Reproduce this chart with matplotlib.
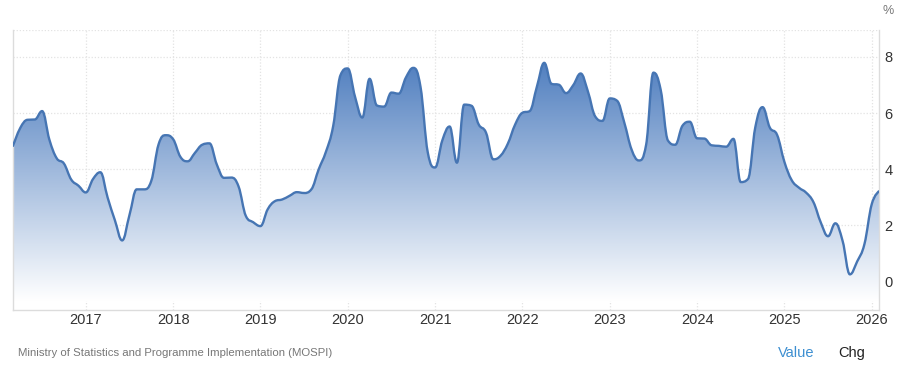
import numpy as np
import pandas as pd
import matplotlib
matplotlib.use("Agg")
import matplotlib.pyplot as plt
from matplotlib.path import Path
from matplotlib.patches import PathPatch
from matplotlib.colors import LinearSegmentedColormap

# ---- data (India CPI inflation, y/y %, monthly) ----
start_month = "2016-03"
inflation = [
    4.83, 5.47, 5.76, 5.77, 6.07, 5.05, 4.39, 4.20, 3.63, 3.41,            # 2016 Mar-Dec
    3.17, 3.65, 3.89, 2.99, 2.18, 1.46, 2.36, 3.28, 3.28, 3.58, 4.88, 5.21,  # 2017
    5.07, 4.44, 4.28, 4.58, 4.87, 4.92, 4.17, 3.69, 3.70, 3.38, 2.33, 2.11,  # 2018
    1.97, 2.57, 2.86, 2.92, 3.05, 3.18, 3.15, 3.28, 3.99, 4.62, 5.54, 7.35,  # 2019
    7.59, 6.58, 5.84, 7.22, 6.27, 6.23, 6.73, 6.69, 7.27, 7.61, 6.93, 4.59,  # 2020
    4.06, 5.03, 5.52, 4.23, 6.30, 6.26, 5.59, 5.30, 4.35, 4.48, 4.91, 5.59,  # 2021
    6.01, 6.07, 6.95, 7.79, 7.04, 7.01, 6.71, 7.00, 7.41, 6.77, 5.88, 5.72,  # 2022
    6.52, 6.44, 5.66, 4.70, 4.31, 4.87, 7.44, 6.83, 5.02, 4.87, 5.55, 5.69,  # 2023
    5.10, 5.09, 4.85, 4.83, 4.80, 5.08, 3.54, 3.65, 5.49, 6.21, 5.48, 5.22,  # 2024
    4.26, 3.61, 3.34, 3.16, 2.82, 2.10, 1.61, 2.07, 1.44, 0.25, 0.71, 1.33,  # 2025
    2.75, 3.21,                                                              # 2026 Jan-Feb
]
year_ticks = [2017, 2018, 2019, 2020, 2021, 2022, 2023, 2024, 2025, 2026]
y_ticks = [0, 2, 4, 6, 8]
source_text = "Ministry of Statistics and Programme Implementation (MOSPI)"

dates = pd.date_range(start_month, periods=len(inflation), freq="MS")
xs = np.array([d.year + (d.month - 1) / 12 for d in dates])
ys = np.array(inflation, dtype=float)


def spline_path(xv, yv, smoothing=1.5):
    n = len(xv)
    left = [None] * n
    right = [None] * n
    den = smoothing + 1
    for i in range(1, n - 1):
        px, py = xv[i], yv[i]
        lx, ly = xv[i - 1], yv[i - 1]
        nx, ny = xv[i + 1], yv[i + 1]
        lcx = (smoothing * px + lx) / den
        lcy = (smoothing * py + ly) / den
        rcx = (smoothing * px + nx) / den
        rcy = (smoothing * py + ny) / den
        if rcx != lcx:
            corr = ((rcy - lcy) * (rcx - px)) / (rcx - lcx) + py - rcy
            lcy += corr
            rcy += corr
        if lcy > ly and lcy > py:
            lcy = max(ly, py); rcy = 2 * py - lcy
        elif lcy < ly and lcy < py:
            lcy = min(ly, py); rcy = 2 * py - lcy
        if rcy > ny and rcy > py:
            rcy = max(ny, py); lcy = 2 * py - rcy
        elif rcy < ny and rcy < py:
            rcy = min(ny, py); lcy = 2 * py - rcy
        left[i] = (lcx, lcy)
        right[i] = (rcx, rcy)
    verts = [(xv[0], yv[0])]
    codes = [Path.MOVETO]
    for i in range(1, n):
        c1 = right[i - 1] if right[i - 1] is not None else (xv[i - 1], yv[i - 1])
        c2 = left[i] if left[i] is not None else (xv[i], yv[i])
        verts += [c1, c2, (xv[i], yv[i])]
        codes += [Path.CURVE4] * 3
    return verts, codes


W, H = 900, 369
fig = plt.figure(figsize=(W / 100, H / 100), dpi=100)
ax = fig.add_axes([13 / W, 1 - 310 / H, (879 - 13) / W, (310 - 30) / H])

YMIN, YMAX = -1.02, 8.96
ax.set_xlim(xs[0], xs[-1])
ax.set_ylim(YMIN, YMAX)

line_color = "#4675b3"
top_fill = "#4f7ebf"

verts, codes = spline_path(xs, ys)
line_path = Path(verts, codes)
area_verts = verts + [(xs[-1], YMIN), (xs[0], YMIN), (xs[0], ys[0])]
area_codes = codes + [Path.LINETO, Path.LINETO, Path.CLOSEPOLY]
area_patch = PathPatch(Path(area_verts, area_codes), facecolor="none",
                       edgecolor="none", transform=ax.transData)
ax.add_patch(area_patch)

cmap = LinearSegmentedColormap.from_list("fade", ["#ffffff", top_fill])
grad = np.linspace(0, 1, 256).reshape(-1, 1)
im = ax.imshow(grad, extent=[xs[0], xs[-1], -0.7, 7.9], origin="lower",
               aspect="auto", cmap=cmap, zorder=1, interpolation="bilinear")
im.set_clip_path(area_patch)

ax.add_patch(PathPatch(line_path, facecolor="none", edgecolor=line_color,
                       linewidth=1.7, zorder=3, transform=ax.transData,
                       joinstyle="round", capstyle="round"))

# grid
grid_color = "#e3e3e3"
for yv in y_ticks + [YMAX]:
    ax.axhline(yv, color=grid_color, linewidth=0.9, linestyle=(0, (1, 1.5)), zorder=0)
for xv in year_ticks:
    ax.axvline(xv, color=grid_color, linewidth=0.9, linestyle=(0, (1, 1.5)), zorder=0)

for side in ["left", "right", "bottom"]:
    ax.spines[side].set_color("#dcdcdc")
    ax.spines[side].set_linewidth(1.0)
ax.spines["top"].set_visible(False)

font = ["Liberation Sans", "DejaVu Sans"]
ax.set_xticks(year_ticks)
ax.set_xticklabels([str(y) for y in year_ticks], fontsize=10.5, color="#333333",
                   family=font)
ax.yaxis.tick_right()
ax.set_yticks(y_ticks)
ax.set_yticklabels([str(v) for v in y_ticks], fontsize=10.5, color="#333333",
                   family=font)
ax.tick_params(axis="x", length=0, pad=2)
ax.tick_params(axis="y", length=0, pad=4)

fig.text(888 / W, 1 - 11 / H, "%", fontsize=9, color="#777777", family=font,
         ha="center", va="center")
fig.text(18 / W, 1 - 353 / H, source_text, fontsize=8.2, color="#777777",
         family=font, ha="left", va="center")
fig.text(778 / W, 1 - 353 / H, "Value", fontsize=10.5, color="#3d8fd1",
         family=font, ha="left", va="center")
fig.text(838 / W, 1 - 353 / H, "Chg", fontsize=10.5, color="#222222",
         family=font, ha="left", va="center")

fig.savefig("out.png", dpi=100)
